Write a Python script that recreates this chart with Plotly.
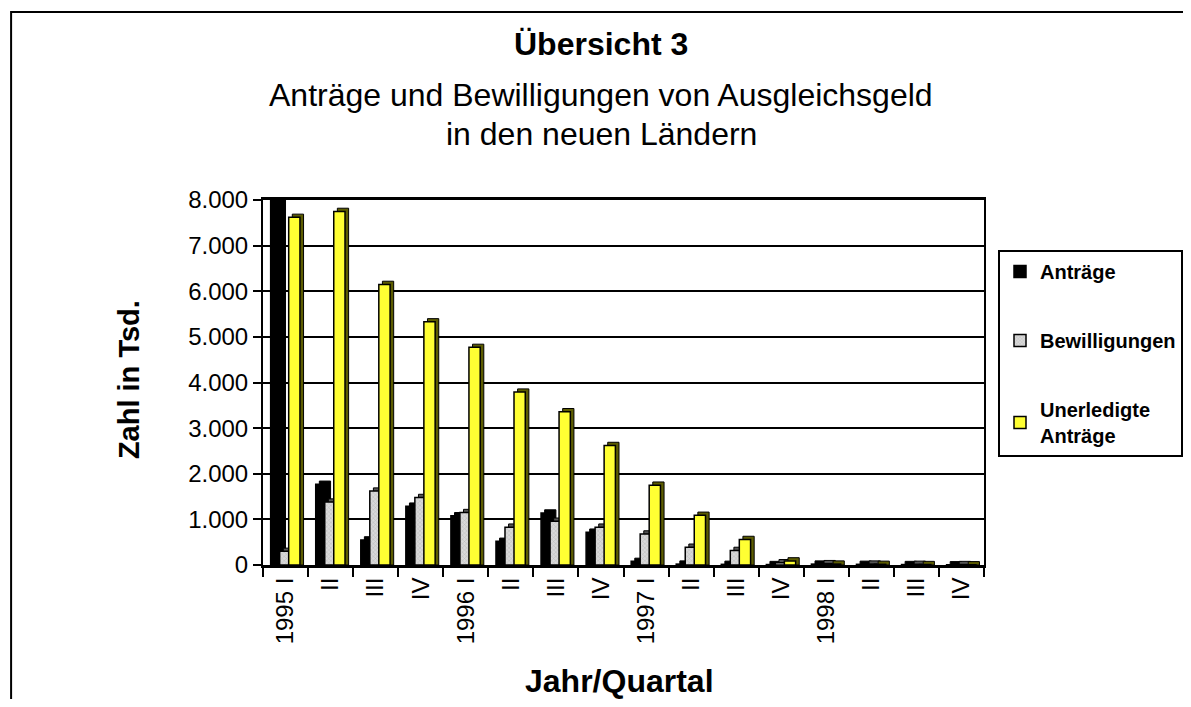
import numpy as np
import plotly.graph_objects as go

# ---- data ----
quarters = ["1995 I", "II", "III", "IV", "1996 I", "II", "III", "IV",
            "1997 I", "II", "III", "IV", "1998 I", "II", "III", "IV"]
antraege = [8000, 1770, 550, 1290, 1080, 520, 1140, 720,
            80, 20, 15, 10, 20, 15, 10, 5]
bewilligungen = [300, 1380, 1620, 1480, 1150, 830, 960, 830,
                 680, 390, 320, 50, 30, 20, 15, 10]
unerledigt = [7620, 7750, 6150, 5330, 4770, 3790, 3360, 2620,
              1750, 1090, 560, 90, 20, 15, 10, 5]
series_names = ["Anträge", "Bewilligungen", "Unerledigte<br>Anträge"]
y_ticks = [0, 1000, 2000, 3000, 4000, 5000, 6000, 7000, 8000]

FONT = "Arial, Liberation Sans, sans-serif"
x = np.arange(len(quarters))

W = 0.25      # bar width in category units
DX = 0.08     # 3D depth (horizontal)
DEPTH = 70    # 3D depth (vertical, data units)
offsets = [-0.33, -0.13, 0.07]

fronts = [
    dict(color="#000000"),
    dict(color="#d4d4d4", pattern=dict(shape="x", fgcolor="#9a9a9a", bgcolor="#d9d9d9",
                                       size=3, solidity=0.3)),
    dict(color="#ffff33"),
]
sides = ["#000000", "#555555", "#5c5c00"]

fig = go.Figure()
for i, vals in enumerate([antraege, bewilligungen, unerledigt]):
    v = np.array(vals, dtype=float)
    fig.add_trace(go.Bar(
        x=x, y=v + DEPTH, base=0, offset=offsets[i] + DX, width=W,
        marker=dict(color=sides[i], line=dict(color="black", width=1)),
        showlegend=False, hoverinfo="skip", legendgroup=f"g{i}",
    ))
    m = dict(fronts[i])
    m["line"] = dict(color="black", width=1.5)
    fig.add_trace(go.Bar(
        x=x, y=v, offset=offsets[i], width=W, name=series_names[i],
        marker=m, legendgroup=f"g{i}",
    ))

# page has an 8px body margin: figure occupies page px 8..1183 / 8..699
FW, FH = 1175, 691
fig.update_layout(
    width=FW, height=FH,
    margin=dict(l=255, r=193, t=192, b=134),
    paper_bgcolor="white", plot_bgcolor="white",
    barmode="overlay",
    font=dict(family=FONT, color="black"),
    showlegend=True,
    legend=dict(
        xref="container", yref="container",
        x=(998 - 8) / FW, y=1 - (250 - 8) / FH, xanchor="left", yanchor="top",
        bordercolor="black", borderwidth=2,
        font=dict(size=20, family=FONT, weight="bold", color="black"),
        tracegroupgap=40, traceorder="grouped",
    ),
    separators=",.",
)

fig.update_yaxes(
    range=[0, 8000], tickvals=y_ticks, tickformat=",d",
    showgrid=True, gridcolor="black", gridwidth=2,
    showline=True, linecolor="black", linewidth=2, mirror=True,
    ticks="outside", ticklen=8, tickwidth=2, tickcolor="black",
    tickfont=dict(size=24, family=FONT, color="black"),
    zeroline=False,
)
fig.update_xaxes(
    range=[-0.5, len(quarters) - 0.5],
    tickvals=x, ticktext=quarters, tickangle=-90,
    ticks="", showgrid=False,
    showline=True, linecolor="black", linewidth=3, mirror=True,
    tickfont=dict(size=24, family=FONT, color="black"),
    minor=dict(tickvals=list(np.arange(-0.5, len(quarters), 1.0)),
               ticks="outside", ticklen=9, tickwidth=2, tickcolor="black", showgrid=False),
    zeroline=False,
)

def py(pix):
    return (565 - pix) / 365.0

def px_(pix):
    return (pix - 263) / 727.0

anns = [
    dict(text="<b>Übersicht 3</b>", x=px_(604), y=py(44), size=32),
    dict(text="Anträge und Bewilligungen von Ausgleichsgeld", x=px_(604), y=py(95), size=32),
    dict(text="in den neuen Ländern", x=px_(604), y=py(134), size=32),
    dict(text="<b>Jahr/Quartal</b>", x=px_(622), y=py(681), size=32),
]
for a in anns:
    fig.add_annotation(text=a["text"], x=a["x"], y=a["y"], xref="paper", yref="paper",
                       xanchor="center", yanchor="middle", showarrow=False,
                       font=dict(size=a["size"], family=FONT, color="black"))
fig.add_annotation(text="<b>Zahl in Tsd.</b>", x=px_(128), y=py(380), xref="paper", yref="paper",
                   xanchor="center", yanchor="middle", showarrow=False, textangle=-90,
                   font=dict(size=29, family=FONT, color="black"))

# outer frame of the chart object
fig.add_shape(type="rect", xref="paper", yref="paper",
              x0=px_(9), x1=px_(1250), y0=py(760), y1=py(12),
              line=dict(color="black", width=2), fillcolor="rgba(0,0,0,0)", layer="below")

fig.write_html("out.html")
